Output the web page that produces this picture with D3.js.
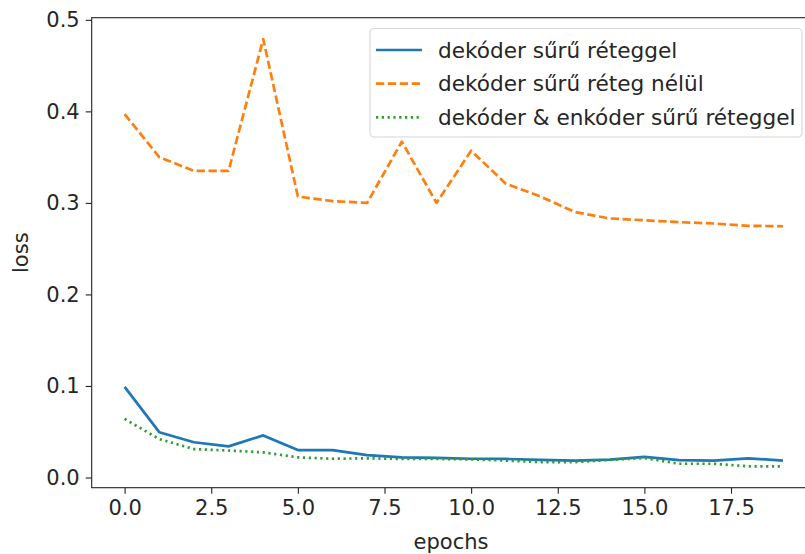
<!DOCTYPE html>
<html>
<head>
<meta charset="utf-8">
<script src="https://cdn.jsdelivr.net/npm/d3@7"></script>
<style>
  body { margin: 0; background: #fff; }
  svg { display: block; font-family: "DejaVu Sans", sans-serif; }
</style>
</head>
<body>
<div id="chart"></div>
<script>
// epochs 0..19
var epochs = d3.range(0, 20);

// dekóder sűrű réteggel
var withDense = [0.099, 0.0495, 0.0385, 0.034, 0.046, 0.030, 0.030, 0.0245, 0.022, 0.0215,
                 0.0205, 0.0203, 0.0193, 0.0185, 0.0195, 0.0225, 0.019, 0.0185, 0.021, 0.0185];

// dekóder sűrű réteg nélül
var withoutDense = [0.397, 0.350, 0.335, 0.335, 0.479, 0.307, 0.302, 0.300, 0.367, 0.300,
                    0.357, 0.321, 0.307, 0.290, 0.283, 0.281, 0.279, 0.2775, 0.275, 0.2745];

// dekóder & enkóder sűrű réteggel
var bothDense = [0.064, 0.042, 0.031, 0.0295, 0.0275, 0.022, 0.0205, 0.021, 0.0203, 0.0203,
                 0.0198, 0.0185, 0.0168, 0.0168, 0.0192, 0.0213, 0.015, 0.015, 0.0122, 0.0122];

var seriesNames = ["dekóder sűrű réteggel", "dekóder sűrű réteg nélül", "dekóder & enkóder sűrű réteggel"];
var xTicks = [0, 2.5, 5, 7.5, 10, 12.5, 15, 17.5];
var yTicks = [0, 0.1, 0.2, 0.3, 0.4, 0.5];

var series = [
  { name: seriesNames[0], values: withDense, color: "#1f77b4", dash: null },
  { name: seriesNames[1], values: withoutDense, color: "#ff7f0e", dash: "8.3,3.6" },
  { name: seriesNames[2], values: bothDense, color: "#2ca02c", dash: "2.2,3.6" }
];

var W = 805, H = 554;
var fontSize = "21px";
// plot box (right edge runs past the picture, as in the reference crop)
var box = { left: 91.7, right: 815.9, top: 17.7, bottom: 487.7 };

var svg = d3.select("#chart").append("svg")
    .attr("width", W)
    .attr("height", H);

// matplotlib-like 5% margins
var xPad = (d3.max(epochs) - d3.min(epochs)) * 0.05;
var allY = withDense.concat(withoutDense, bothDense);
var yMin = d3.min(allY), yMax = d3.max(allY), yPad = (yMax - yMin) * 0.05;

var x = d3.scaleLinear()
    .domain([d3.min(epochs) - xPad, d3.max(epochs) + xPad])
    .range([box.left, box.right]);

var y = d3.scaleLinear()
    .domain([yMin - yPad, yMax + yPad])
    .range([box.bottom, box.top]);

// lines
var line = d3.line()
    .x(function(d, i) { return x(epochs[i]); })
    .y(function(d) { return y(d); });

series.forEach(function(s) {
  svg.append("path")
      .datum(s.values)
      .attr("fill", "none")
      .attr("stroke", s.color)
      .attr("stroke-width", 2.7)
      .attr("stroke-linejoin", "round")
      .attr("stroke-dasharray", s.dash)
      .attr("d", line);
});

// axes
var xAxis = svg.append("g")
    .attr("transform", "translate(0," + box.bottom + ")")
    .call(d3.axisBottom(x).tickValues(xTicks).tickSize(6).tickPadding(6)
      .tickFormat(d3.format(".1f")));

var yAxis = svg.append("g")
    .attr("transform", "translate(" + box.left + ",0)")
    .call(d3.axisLeft(y).tickValues(yTicks).tickSize(6).tickPadding(6)
      .tickFormat(d3.format(".1f")));

[xAxis, yAxis].forEach(function(g) {
  g.select(".domain").remove();
  g.selectAll(".tick line").attr("stroke", "#222").attr("stroke-width", 1.1);
  g.selectAll(".tick text").attr("fill", "#262626").attr("font-size", fontSize)
      .attr("font-family", "DejaVu Sans");
});

// spines
svg.append("rect")
    .attr("x", box.left)
    .attr("y", box.top)
    .attr("width", box.right - box.left)
    .attr("height", box.bottom - box.top)
    .attr("fill", "none")
    .attr("stroke", "#222")
    .attr("stroke-width", 1.1);

// axis labels
svg.append("text")
    .attr("x", 451)
    .attr("y", 549)
    .attr("text-anchor", "middle")
    .attr("font-size", fontSize)
    .attr("fill", "#262626")
    .text("epochs");

svg.append("text")
    .attr("transform", "translate(28," + ((box.top + box.bottom) / 2) + ") rotate(-90)")
    .attr("text-anchor", "middle")
    .attr("font-size", fontSize)
    .attr("fill", "#262626")
    .text("loss");

// legend
var lg = svg.append("g");
lg.append("rect")
    .attr("x", 370)
    .attr("y", 28.5)
    .attr("width", 432)
    .attr("height", 108.5)
    .attr("rx", 4)
    .attr("fill", "#fff")
    .attr("fill-opacity", 0.8)
    .attr("stroke", "#d6d6d6")
    .attr("stroke-width", 1.1);

series.forEach(function(s, i) {
  var cy = 50 + i * 33.7;
  lg.append("line")
      .attr("x1", 376)
      .attr("x2", 422)
      .attr("y1", cy)
      .attr("y2", cy)
      .attr("stroke", s.color)
      .attr("stroke-width", 2.7)
      .attr("stroke-dasharray", s.dash);
  lg.append("text")
      .attr("x", 438)
      .attr("y", cy)
      .attr("dy", "0.35em")
      .attr("font-size", "21.6px")
      .attr("fill", "#262626")
      .text(s.name);
});
</script>
</body>
</html>
